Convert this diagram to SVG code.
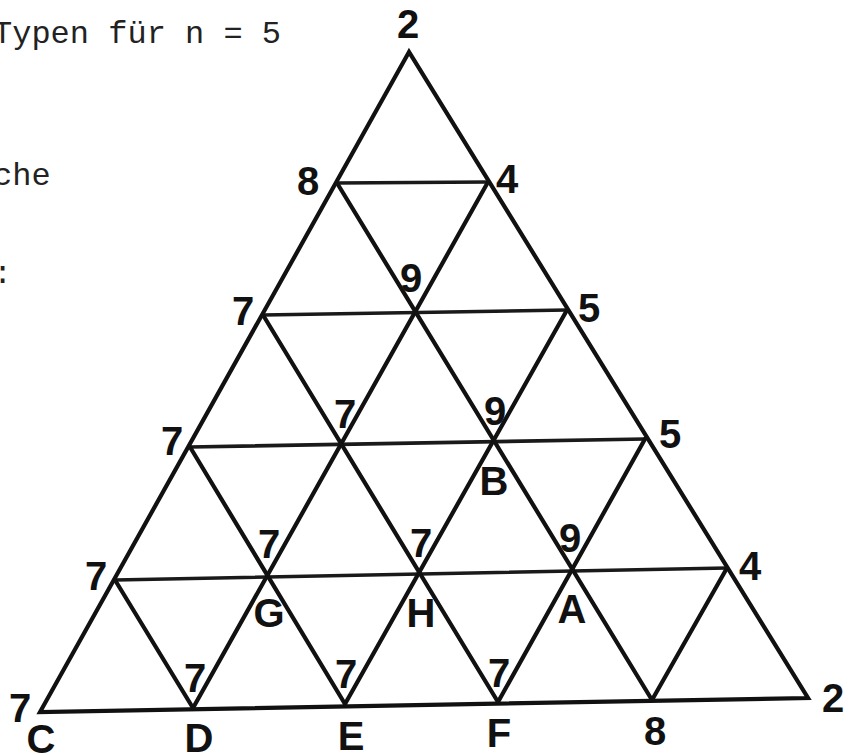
<svg xmlns="http://www.w3.org/2000/svg" width="850" height="755" viewBox="0 0 850 755">
<style>
.bg{fill:#ffffff}
.edge{stroke:#111;stroke-width:4.2;fill:none;stroke-linejoin:miter;stroke-linecap:round}
.hl{stroke:#1a1a1a;stroke-width:3.6;fill:none;stroke-linecap:round}
.lbl{font-family:"Liberation Sans","Arial",sans-serif;font-weight:bold;font-size:40px;fill:#111;text-anchor:middle}
.note{font-family:"Liberation Mono","Courier New",monospace;font-size:32px;fill:#222}
</style>
<rect class="bg" x="0" y="0" width="850" height="755"/>
<g id="caption">
<text class="note" x="-7" y="43">Typen für n = 5</text>
<text class="note" x="-7" y="185">che</text>
<text class="note" x="-7" y="283">:</text>
</g>
<g id="connectors">
<polygon class="edge" points="409,52 40,712 808,698"/>
<line class="hl" x1="337" y1="183" x2="488" y2="182"/>
<line class="hl" x1="263" y1="315" x2="567" y2="310"/>
<line class="hl" x1="190" y1="447" x2="645" y2="439"/>
<line class="hl" x1="115" y1="580" x2="727" y2="568"/>
<line class="edge" x1="488" y1="182" x2="193" y2="708"/>
<line class="edge" x1="567" y1="310" x2="345" y2="704"/>
<line class="edge" x1="645" y1="439" x2="498" y2="702"/>
<line class="edge" x1="727" y1="568" x2="652" y2="700"/>
<line class="edge" x1="337" y1="183" x2="652" y2="700"/>
<line class="edge" x1="263" y1="315" x2="498" y2="702"/>
<line class="edge" x1="190" y1="447" x2="345" y2="704"/>
<line class="edge" x1="115" y1="580" x2="193" y2="708"/>
</g>
<g id="n-top"><text class="lbl" x="408" y="38">2</text></g>
<g id="n-r1-0"><text class="lbl" x="308" y="195">8</text></g>
<g id="n-r1-1"><text class="lbl" x="507" y="193">4</text></g>
<g id="n-r2-0"><text class="lbl" x="243" y="325">7</text></g>
<g id="n-r2-1"><text class="lbl" x="411" y="292">9</text></g>
<g id="n-r2-2"><text class="lbl" x="589" y="322">5</text></g>
<g id="n-r3-0"><text class="lbl" x="172" y="455">7</text></g>
<g id="n-r3-1"><text class="lbl" x="345" y="428">7</text></g>
<g id="n-B"><text class="lbl" x="495" y="425">9</text><text class="lbl" x="494" y="495">B</text></g>
<g id="n-r3-3"><text class="lbl" x="670" y="448">5</text></g>
<g id="n-r4-0"><text class="lbl" x="96" y="590">7</text></g>
<g id="n-G"><text class="lbl" x="269" y="558">7</text><text class="lbl" x="269" y="627">G</text></g>
<g id="n-H"><text class="lbl" x="421" y="557">7</text><text class="lbl" x="421" y="627">H</text></g>
<g id="n-A"><text class="lbl" x="570" y="552">9</text><text class="lbl" x="572" y="623">A</text></g>
<g id="n-r4-4"><text class="lbl" x="750" y="580">4</text></g>
<g id="n-C"><text class="lbl" x="20" y="722">7</text><text class="lbl" x="41" y="753">C</text></g>
<g id="n-D"><text class="lbl" x="195" y="692">7</text><text class="lbl" x="199" y="752">D</text></g>
<g id="n-E"><text class="lbl" x="346" y="688">7</text><text class="lbl" x="351" y="750">E</text></g>
<g id="n-F"><text class="lbl" x="499" y="687">7</text><text class="lbl" x="499" y="747">F</text></g>
<g id="n-r5-4"><text class="lbl" x="655" y="745">8</text></g>
<g id="n-r5-5"><text class="lbl" x="833" y="712">2</text></g>
</svg>
